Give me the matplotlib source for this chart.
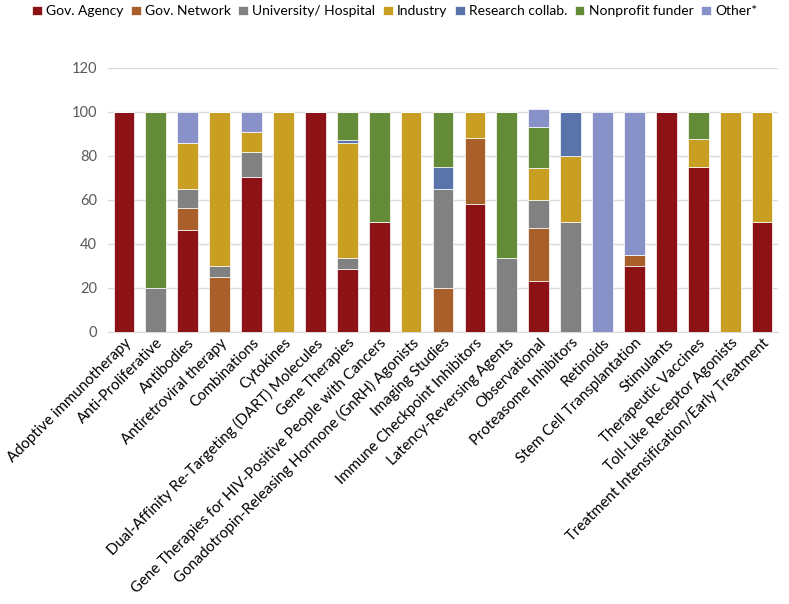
import matplotlib
matplotlib.use("Agg")
import matplotlib.pyplot as plt
import numpy as np

categories = [
    "Adoptive immunotherapy", "Anti-Proliferative", "Antibodies", "Antiretroviral therapy",
    "Combinations", "Cytokines", "Dual-Affinity Re-Targeting (DART) Molecules", "Gene Therapies",
    "Gene Therapies for HIV-Positive People with Cancers",
    "Gonadotropin-Releasing Hormone (GnRH) Agonists", "Imaging Studies",
    "Immune Checkpoint Inhibitors", "Latency-Reversing Agents", "Observational",
    "Proteasome Inhibitors", "Retinoids", "Stem Cell Transplantation", "Stimulants",
    "Therapeutic Vaccines", "Toll-Like Receptor Agonists", "Treatment Intensification/Early Treatment",
]

series_names = ["Gov. Agency", "Gov. Network", "University/ Hospital", "Industry",
                "Research collab.", "Nonprofit funder", "Other*"]

gov_agency   = [100, 0, 46.4, 0, 70.4, 0, 100, 28.6, 50, 0, 0, 58, 0, 23.2, 0, 0, 30, 100, 75, 0, 50]
gov_network  = [0, 0, 10, 25, 0, 0, 0, 0, 0, 0, 20, 30, 0, 24.1, 0, 0, 5, 0, 0, 0, 0]
university   = [0, 20, 8.6, 5, 11.1, 0, 0, 4.9, 0, 0, 45, 0, 33.3, 12.5, 50, 0, 0, 0, 0, 0, 0]
industry     = [0, 0, 20.8, 70, 9.3, 100, 0, 52.4, 0, 100, 0, 12, 0, 14.7, 30, 0, 0, 0, 12.5, 100, 50]
research     = [0, 0, 0, 0, 0, 0, 0, 1.2, 0, 0, 10, 0, 0, 0, 20, 0, 0, 0, 0, 0, 0]
nonprofit    = [0, 80, 0, 0, 0, 0, 0, 12.9, 50, 0, 25, 0, 66.7, 18.4, 0, 0, 0, 0, 12.5, 0, 0]
other        = [0, 0, 14.2, 0, 9.2, 0, 0, 0, 0, 0, 0, 0, 0, 8.2, 0, 100, 65, 0, 0, 0, 0]

colors = ["#8C1216", "#A95F2A", "#818181", "#C89F23", "#5A73AB", "#648B38", "#8891C8"]

plt.rcParams['font.family'] = ['Lato', 'DejaVu Sans']

fig = plt.figure(figsize=(7.89, 6.04), dpi=100)
ax = fig.add_axes([108/789, 1-331.7/604, (778-108)/789, (331.7-67.7)/604])

x = np.arange(len(categories))
bottom = np.zeros(len(categories))
all_series = [gov_agency, gov_network, university, industry, research, nonprofit, other]
handles = []
for name, vals, c in zip(series_names, all_series, colors):
    vals = np.array(vals, dtype=float)
    b = ax.bar(x, vals, bottom=bottom, width=0.65, color=c, edgecolor="white",
               linewidth=0.5, label=name, zorder=3)
    handles.append(b)
    bottom += vals

ax.set_ylim(0, 120)
ax.set_yticks(range(0, 121, 20))
ax.set_xlim(-0.5, len(categories) - 0.5)
ax.yaxis.grid(True, color="#D9D9D9", linewidth=1, zorder=0)
ax.tick_params(axis="y", length=0, labelsize=10.5, labelcolor="#595959", pad=8)
ax.tick_params(axis="x", length=0, labelsize=10.8, pad=3)
ax.set_xticks(x)
ax.set_xticklabels(categories, rotation=45, ha="right", rotation_mode="anchor")
for s in ["top", "right", "left"]:
    ax.spines[s].set_visible(False)
ax.spines["bottom"].set_color("#D9D9D9")

fig.legend(handles=handles, labels=series_names, loc="upper center",
           bbox_to_anchor=(0.5, 1.012), ncol=7, frameon=False, fontsize=10,
           handlelength=0.7, handleheight=0.7, handletextpad=0.3, columnspacing=0.55)

fig.savefig("out.png", dpi=100)
